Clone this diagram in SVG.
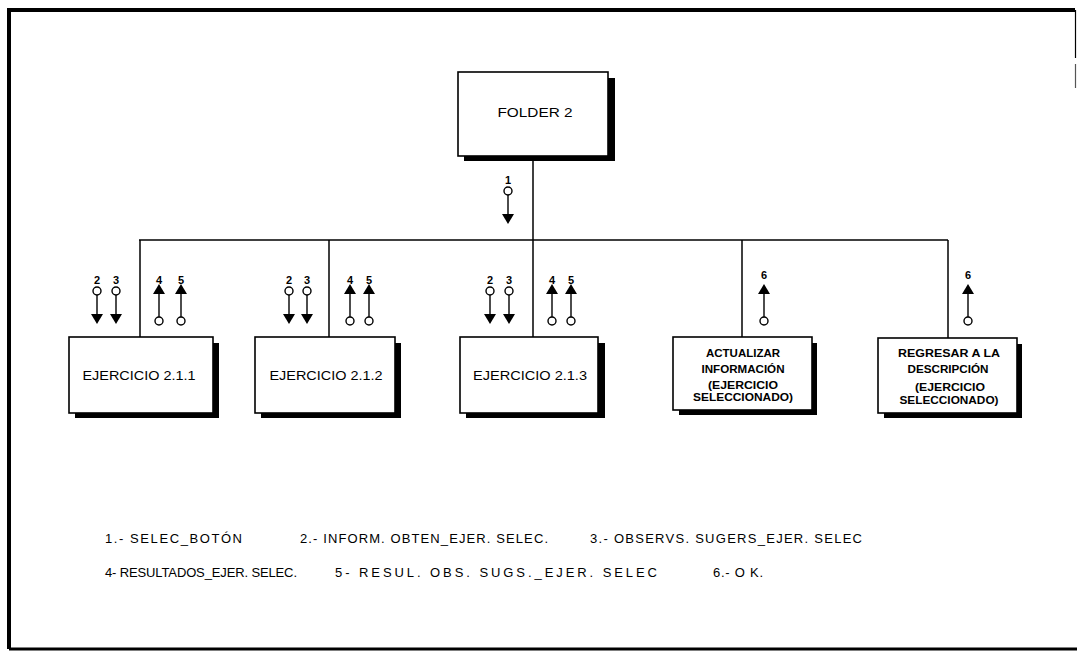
<svg xmlns="http://www.w3.org/2000/svg" width="1077" height="651" viewBox="0 0 1077 651">
  <style>
    .frame { fill: none; stroke: #000; stroke-width: 4; }
    .box { fill: #fff; stroke: #000; stroke-width: 1.6; }
    .shadow { fill: #000; }
    .wire { fill: none; stroke: #000; stroke-width: 1.5; }
    .lbl { font-family: "Liberation Sans", Arial, sans-serif; font-size: 13px; fill: #000; }
    .num { font-family: "Liberation Sans", Arial, sans-serif; font-size: 11px; font-weight: bold; fill: #000; text-anchor: middle; }
    .name { font-family: "Liberation Sans", Arial, sans-serif; font-size: 13px; fill: #000; text-anchor: middle; }
    .small { font-family: "Liberation Sans", Arial, sans-serif; font-size: 11px; font-weight: bold; fill: #000; text-anchor: middle; }
    .tiny { font-family: "Liberation Sans", Arial, sans-serif; font-size: 10px; font-weight: bold; fill: #000; text-anchor: middle; }
    .flow line { stroke: #000; stroke-width: 1.4; }
    .flow circle { fill: #fff; stroke: #000; stroke-width: 1.4; }
    .flow path { fill: #000; }
  </style>
  <defs>
    <!-- downward flow: circle on top, filled head below -->
    <g id="down" class="flow">
      <circle cx="0" cy="0" r="4"/>
      <line x1="0" y1="4" x2="0" y2="24"/>
      <path d="M-6,23 L6,23 L0,33 Z"/>
    </g>
    <!-- upward flow: filled head on top, circle below -->
    <g id="up" class="flow">
      <path d="M0,0 L6,10 L-6,10 Z"/>
      <line x1="0" y1="10" x2="0" y2="33"/>
      <circle cx="0" cy="37" r="4"/>
    </g>
  </defs>

  <rect x="0" y="0" width="1077" height="651" fill="#fff"/>

  <!-- page frame -->
  <g id="frame">
    <path class="frame" d="M9,649 L9,10 L1075,10"/>
    <line x1="9" y1="649" x2="1077" y2="649" stroke="#000" stroke-width="3"/>
    <line x1="1075.5" y1="10" x2="1075.5" y2="58" stroke="#000" stroke-width="1.2"/>
    <line x1="1075.5" y1="64" x2="1075.5" y2="88" stroke="#555" stroke-width="1.2"/>
  </g>

  <!-- connectors -->
  <g id="connectors">
    <line class="wire" x1="533" y1="158" x2="533" y2="337"/>
    <line class="wire" x1="139" y1="240" x2="948" y2="240"/>
    <line class="wire" x1="140" y1="240" x2="140" y2="337"/>
    <line class="wire" x1="329" y1="240" x2="329" y2="337"/>
    <line class="wire" x1="742" y1="240" x2="742" y2="337"/>
    <line class="wire" x1="948" y1="240" x2="948" y2="338"/>

    <!-- flow 1 -->
    <text class="num" x="508" y="184">1</text>
    <use href="#down" x="508" y="191"/>

    <!-- flows for EJERCICIO 2.1.1 -->
    <text class="num" x="97" y="284">2</text>
    <text class="num" x="116" y="284">3</text>
    <text class="num" x="159" y="284">4</text>
    <text class="num" x="181" y="284">5</text>
    <use href="#down" x="97" y="291"/>
    <use href="#down" x="116" y="291"/>
    <use href="#up" x="159" y="284"/>
    <use href="#up" x="181" y="284"/>

    <!-- flows for EJERCICIO 2.1.2 -->
    <text class="num" x="289" y="284">2</text>
    <text class="num" x="307" y="284">3</text>
    <text class="num" x="350" y="284">4</text>
    <text class="num" x="369" y="284">5</text>
    <use href="#down" x="289" y="291"/>
    <use href="#down" x="307" y="291"/>
    <use href="#up" x="350" y="284"/>
    <use href="#up" x="369" y="284"/>

    <!-- flows for EJERCICIO 2.1.3 -->
    <text class="num" x="490" y="284">2</text>
    <text class="num" x="509" y="284">3</text>
    <text class="num" x="552" y="284">4</text>
    <text class="num" x="571" y="284">5</text>
    <use href="#down" x="490" y="291"/>
    <use href="#down" x="509" y="291"/>
    <use href="#up" x="552" y="284"/>
    <use href="#up" x="571" y="284"/>

    <!-- flows 6 -->
    <text class="num" x="764" y="279">6</text>
    <use href="#up" x="764" y="284"/>
    <text class="num" x="968" y="279">6</text>
    <use href="#up" x="968" y="284"/>
  </g>

  <g id="folder2">
    <rect class="shadow" x="464" y="78" width="151" height="83"/>
    <rect class="box" x="458" y="72" width="150" height="84"/>
    <text class="name" x="535" y="117" textLength="75" lengthAdjust="spacingAndGlyphs">FOLDER 2</text>
  </g>

  <g id="ejercicio211">
    <rect class="shadow" x="75" y="343" width="144" height="75"/>
    <rect class="box" x="69" y="337" width="144" height="76"/>
    <text class="name" x="139" y="380" textLength="113" lengthAdjust="spacingAndGlyphs">EJERCICIO 2.1.1</text>
  </g>

  <g id="ejercicio212">
    <rect class="shadow" x="261" y="343" width="140" height="75"/>
    <rect class="box" x="255" y="337" width="140" height="76"/>
    <text class="name" x="326" y="380" textLength="113" lengthAdjust="spacingAndGlyphs">EJERCICIO 2.1.2</text>
  </g>

  <g id="ejercicio213">
    <rect class="shadow" x="466" y="343" width="139" height="75"/>
    <rect class="box" x="460" y="337" width="138" height="76"/>
    <text class="name" x="530" y="380" textLength="114" lengthAdjust="spacingAndGlyphs">EJERCICIO 2.1.3</text>
  </g>

  <g id="actualizar">
    <rect class="shadow" x="679" y="343" width="138" height="72"/>
    <rect class="box" x="673" y="337" width="139" height="73"/>
    <text class="small" x="743" y="357" textLength="74" lengthAdjust="spacingAndGlyphs">ACTUALIZAR</text>
    <text class="small" x="743" y="373" textLength="83" lengthAdjust="spacingAndGlyphs">INFORMACIÓN</text>
    <text class="tiny" x="743" y="389" textLength="70" lengthAdjust="spacingAndGlyphs">(EJERCICIO</text>
    <text class="tiny" x="743" y="401" textLength="100" lengthAdjust="spacingAndGlyphs">SELECCIONADO)</text>
  </g>

  <g id="regresar">
    <rect class="shadow" x="884" y="344" width="138" height="74"/>
    <rect class="box" x="878" y="338" width="139" height="75"/>
    <text class="small" x="949" y="357" textLength="102" lengthAdjust="spacingAndGlyphs">REGRESAR A LA</text>
    <text class="small" x="948" y="373" textLength="81" lengthAdjust="spacingAndGlyphs">DESCRIPCIÓN</text>
    <text class="small" x="950" y="391" textLength="70" lengthAdjust="spacingAndGlyphs">(EJERCICIO</text>
    <text class="small" x="949" y="404" textLength="99" lengthAdjust="spacingAndGlyphs">SELECCIONADO)</text>
  </g>

  <!-- legend -->
  <g id="legend">
    <text class="lbl" x="105" y="543" textLength="137" lengthAdjust="spacing">1.- SELEC_BOTÓN</text>
    <text class="lbl" x="300" y="543" textLength="248" lengthAdjust="spacing">2.- INFORM. OBTEN_EJER. SELEC.</text>
    <text class="lbl" x="590" y="543" textLength="272" lengthAdjust="spacing">3.- OBSERVS. SUGERS_EJER. SELEC</text>
    <text class="lbl" x="105" y="577" textLength="192" lengthAdjust="spacing">4- RESULTADOS_EJER. SELEC.</text>
    <text class="lbl" x="335" y="577" textLength="322" lengthAdjust="spacing">5- RESUL. OBS. SUGS._EJER. SELEC</text>
    <text class="lbl" x="713" y="577" textLength="50" lengthAdjust="spacing">6.- O K.</text>
  </g>
</svg>
